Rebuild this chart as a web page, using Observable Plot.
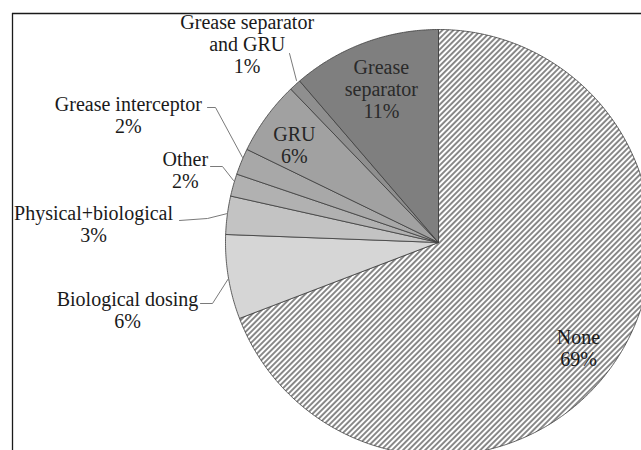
<!DOCTYPE html>
<html>
<head>
<meta charset="utf-8">
<script src="https://cdn.jsdelivr.net/npm/d3@7"></script>
<script src="https://cdn.jsdelivr.net/npm/@observablehq/plot@0.6"></script>
<style>
  html, body { margin: 0; padding: 0; background: #fff; }
</style>
</head>
<body>
<div id="chart"></div>
<script>
// ---- data ----
const categories = ["None", "Biological dosing", "Physical+biological", "Other",
  "Grease interceptor", "GRU", "Grease separator and GRU", "Grease separator"];
const shares = [69.2, 6.4, 2.9, 1.7, 2.0, 5.6, 0.9, 11.3];   // percent
const labelLines = ["None", "Biological dosing", "Physical+biological", "Other",
  "Grease interceptor", "GRU", "Grease separator\nand GRU", "Grease\nseparator"];

// ---- styles ----
const sliceFills = ["url(#none-hatch)", "#d6d6d6", "#c3c3c3", "#b1b1b1",
  "#a8a8a8", "#a1a1a1", "#8f8f8f", "#7f7f7f"];
const labelColors = ["#1a1a1a", "#1a1a1a", "#1a1a1a", "#1a1a1a",
  "#1a1a1a", "#262626", "#1a1a1a", "#2a2a2a"];
const FONT = "Liberation Serif";

// ---- layout ----
const W = 641, H = 450, mL = 12, mT = 13;
const cx = 438, cy = 242, R = 213;           // pie centre and radius in pixels
// label placement: angle offset from slice mid-angle (deg) and radius (in pie radii)
const labelPlace = [
  {da: 2.45, r: 0.823}, {da: -2.9, r: 1.494}, {da: -4.25, r: 1.622}, {da: 0.25, r: 1.236},
  {da: 0.1, r: 1.575}, {da: -2.0, r: 0.816}, {da: -1.7, r: 1.293}, {da: -0.1, r: 0.768}
];
// leader lines (in pie-radius units, relative to the centre)
const leaders = [
  {name: "Biological dosing", pts: [[-1.1174, -0.2864], [-1.0610, -0.2864], [-0.9859, -0.1690]]},
  {name: "Physical+biological", pts: [[-1.2160, 0.1033], [-1.0845, 0.1127], [-0.9906, 0.1362]]},
  {name: "Other", pts: [[-1.0704, 0.3568], [-1.0141, 0.3568], [-0.9624, 0.2911]]},
  {name: "Grease interceptor", pts: [[-1.0845, 0.6338], [-1.0469, 0.6338], [-0.9202, 0.3991]]},
  {name: "Grease separator and GRU", pts: [[-0.6995, 0.8873], [-0.6667, 0.7606]]}
];

// ---- build slice geometry (clockwise from 12 o'clock) ----
const total = d3.sum(shares);
const polar = (deg, r) => ({x: r * Math.sin(deg * Math.PI / 180), y: r * Math.cos(deg * Math.PI / 180)});
let acc = 0;
const slices = categories.map((name, i) => {
  const a0 = acc / total * 360;
  acc += shares[i];
  const a1 = acc / total * 360;
  return {name, a0, a1, mid: (a0 + a1) / 2, value: shares[i]};
});
const slicePoints = [];
for (const s of slices) {
  slicePoints.push({name: s.name, x: 0, y: 0});
  const n = Math.max(2, Math.ceil((s.a1 - s.a0) / 0.5));
  for (let k = 0; k <= n; k++) {
    const p = polar(s.a0 + (s.a1 - s.a0) * k / n, 1);
    slicePoints.push({name: s.name, x: p.x, y: p.y});
  }
  slicePoints.push({name: s.name, x: 0, y: 0});
}
const labels = slices.map((s, i) => {
  const p = polar(s.mid + labelPlace[i].da, labelPlace[i].r);
  return {x: p.x, y: p.y, text: `${labelLines[i]}\n${Math.round(s.value)}%`, color: labelColors[i]};
});
const leaderPoints = leaders.flatMap(l => l.pts.map(([x, y]) => ({name: l.name, x, y})));

const xDomain = [(mL - cx) / R, (W - cx) / R];
const yDomain = [-(H - cy) / R, (cy - mT) / R];

const svg = Plot.plot({
  width: W, height: H,
  marginLeft: mL, marginTop: mT, marginRight: 0, marginBottom: 0,
  x: {domain: xDomain, axis: null},
  y: {domain: yDomain, axis: null},
  color: {domain: categories, range: sliceFills},
  style: {background: "white", fontFamily: FONT},
  marks: [
    Plot.line(slicePoints, {x: "x", y: "y", z: "name", fill: "name",
      stroke: "#3c3c3c", strokeWidth: 0.8, strokeLinejoin: "round"}),
    Plot.line(leaderPoints, {x: "x", y: "y", z: "name", stroke: "#7a7a7a", strokeWidth: 1}),
    Plot.text(labels, {x: "x", y: "y", text: "text", fill: d => d.color,
      fontSize: 20, lineHeight: 1.1, fontFamily: FONT}),
    Plot.ruleX([xDomain[0]], {stroke: "#1a1a1a", strokeWidth: 1.3}),
    Plot.ruleY([yDomain[1]], {stroke: "#1a1a1a", strokeWidth: 1.3})
  ]
});

// make sure every text node carries the serif family and size directly
d3.select(svg).attr("font-family", FONT);
d3.select(svg).selectAll("text")
  .attr("font-family", FONT).attr("font-size", 20)
  .style("font-family", FONT).style("font-size", "20px");

d3.select(svg).insert("defs", ":first-child").html(`
  <pattern id="none-hatch" patternUnits="userSpaceOnUse" width="3.9" height="3.9" patternTransform="rotate(45)">
    <rect width="3.9" height="3.9" fill="#ffffff"></rect>
    <line x1="1.95" y1="0" x2="1.95" y2="3.9" stroke="#6e6e6e" stroke-width="1.6"></line>
  </pattern>`);

document.getElementById("chart").appendChild(svg);
</script>
</body>
</html>
